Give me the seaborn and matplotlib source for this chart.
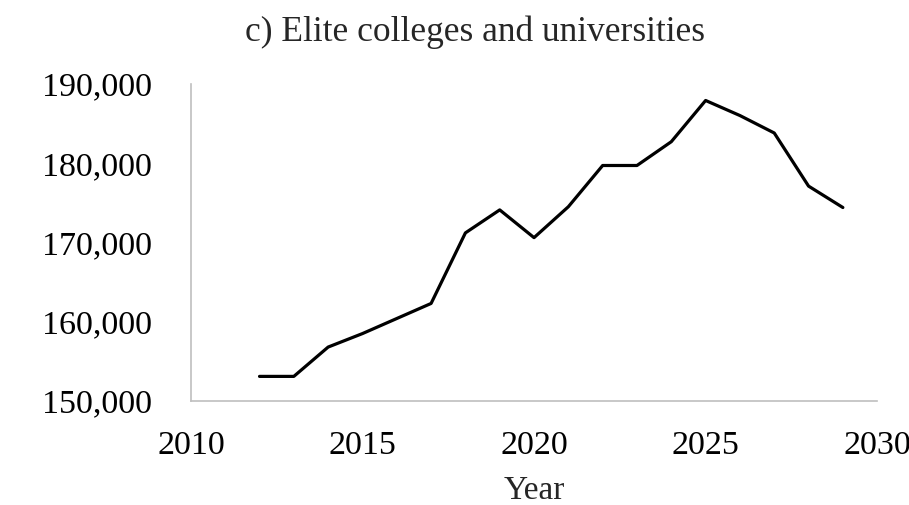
import pandas as pd
import seaborn as sns
import matplotlib.pyplot as plt
from matplotlib.ticker import FuncFormatter

years = [2012, 2013, 2014, 2015, 2016, 2017, 2018, 2019, 2020, 2021,
         2022, 2023, 2024, 2025, 2026, 2027, 2028, 2029]
students = [153100, 153100, 156800, 158500, 160400, 162300, 171200, 174100, 170600, 174500,
            179700, 179700, 182700, 187900, 186000, 183800, 177100, 174400]
x_ticks = [2010, 2015, 2020, 2025, 2030]
y_ticks = [150000, 160000, 170000, 180000, 190000]

df = pd.DataFrame({'Year': years, 'Students': students})

sns.set_style('white')
plt.rcParams['font.family'] = ['Liberation Serif', 'DejaVu Serif']

fig = plt.figure(figsize=(9.09, 5.05), dpi=100)
ax = fig.add_axes([0.210, 0.206, 0.755, 0.628])

sns.lineplot(x='Year', y='Students', data=df, color='black', linewidth=2.3, ax=ax)

ax.set_xlim(2010, 2030)
ax.set_ylim(150000, 190000)
ax.set_xticks(x_ticks)
ax.set_yticks(y_ticks)
ax.yaxis.set_major_formatter(FuncFormatter(lambda v, p: f'{int(v):,}'))
ax.tick_params(axis='both', length=0, labelsize=24.5, colors='black')
ax.tick_params(axis='y', pad=28)
ax.tick_params(axis='x', pad=21)

for side in ['top', 'right']:
    ax.spines[side].set_visible(False)
for side in ['left', 'bottom']:
    ax.spines[side].set_color('#bfbfbf')
    ax.spines[side].set_linewidth(1.2)

ax.set_xlabel('Year', fontsize=24, labelpad=11)
ax.set_ylabel('')
fig.text(0.523, 0.937, 'c) Elite colleges and universities', fontsize=25.5,
         ha='center', va='center')

fig.savefig('out.png', dpi=100)
